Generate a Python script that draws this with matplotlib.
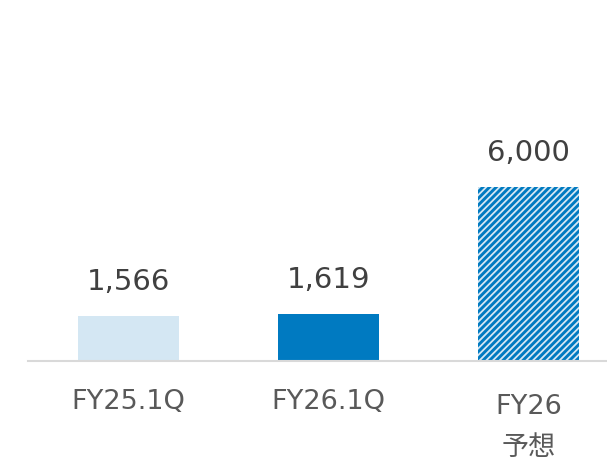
import matplotlib.pyplot as plt

categories = ['FY25.1Q', 'FY26.1Q', 'FY26\n予想']
values = [1566, 1619, 6000]
colors = ['#d4e7f3', '#007ac1', '#007ac1']

plt.rcParams['font.family'] = ['DejaVu Sans', 'Noto Sans CJK JP']
plt.rcParams['hatch.linewidth'] = 1.3

fig = plt.figure(figsize=(6.07, 4.61), dpi=100)
ax = fig.add_axes([0, 100 / 461, 1, 361 / 461])

x = list(range(len(categories)))
bars = ax.bar(x, values, width=0.505, color=colors, linewidth=0)
# forecast bar gets the diagonal stripes
bars[2].set_hatch('/////')
bars[2].set_edgecolor('#d4e7f3')

for xi, v in zip(x, values):
    ax.annotate(f'{v:,}', xy=(xi, v), xytext=(0, 24.5), textcoords='offset points',
                ha='center', va='center', fontsize=21, color='#404040')

ax.set_xlim(-128.5 / 200, (607 - 128.5) / 200)
ax.set_ylim(0, 361 / 174 * 6000)

ax.axhline(0, xmin=28 / 607, xmax=1, color='#d9d9d9', linewidth=1.5, clip_on=False)

for s in ax.spines.values():
    s.set_visible(False)
ax.set_xticks([])
ax.set_yticks([])

# category labels under the baseline
trans = ax.get_xaxis_transform()
ax.text(x[0], -41 / 361, categories[0], transform=trans, ha='center', va='center',
        fontsize=19.5, color='#595959')
ax.text(x[1], -41 / 361, categories[1], transform=trans, ha='center', va='center',
        fontsize=19.5, color='#595959')
line1, line2 = categories[2].split('\n')
ax.text(x[2], -46 / 361, line1, transform=trans, ha='center', va='center',
        fontsize=19.5, color='#595959')
ax.text(x[2], -87 / 361, line2, transform=trans, ha='center', va='center',
        fontsize=19.5, color='#595959')

fig.savefig('out.png', dpi=100)
